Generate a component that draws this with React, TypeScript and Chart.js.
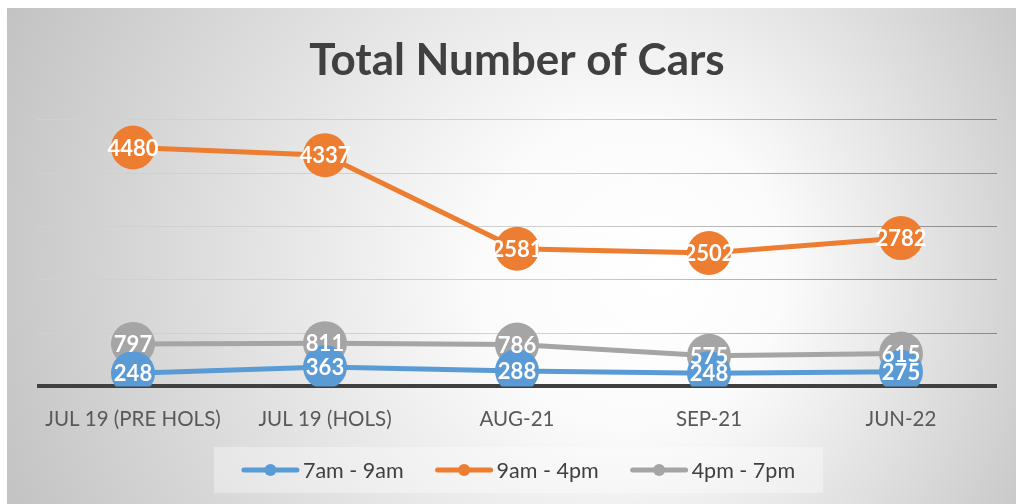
import React, { useEffect, useRef } from "react";
import { Chart, registerables } from "chart.js";

Chart.register(...registerables);

const categories = ["JUL 19 (PRE HOLS)", "JUL 19 (HOLS)", "AUG-21", "SEP-21", "JUN-22"];
const seriesNames = ["7am - 9am", "9am - 4pm", "4pm - 7pm"];
const morning = [248, 363, 288, 248, 275];
const midday = [4480, 4337, 2581, 2502, 2782];
const evening = [797, 811, 786, 575, 615];
const seriesColors = ["#5b9bd5", "#ed7d31", "#a5a5a5"];
const titleText = "Total Number of Cars";

const W = 1009;
const H = 496;

const bgPlugin = {
  id: "bg",
  beforeDraw(chart: any) {
    const ctx = chart.ctx;
    ctx.save();
    const g = ctx.createRadialGradient(660, 270, 0, 520, 250, 610);
    g.addColorStop(0, "#ffffff");
    g.addColorStop(0.25, "#fbfbfb");
    g.addColorStop(1, "#bfbfbf");
    ctx.fillStyle = g;
    ctx.fillRect(0, 0, chart.width, chart.height);
    ctx.restore();
  },
};

const labelPlugin = {
  id: "pointLabels",
  afterDatasetsDraw(chart: any) {
    const ctx = chart.ctx;
    ctx.save();
    ctx.font = "bold 22px Lato";
    ctx.fillStyle = "#ffffff";
    ctx.textAlign = "center";
    ctx.textBaseline = "middle";
    for (let d = chart.data.datasets.length - 1; d >= 0; d--) {
      const meta = chart.getDatasetMeta(d);
      const ds = chart.data.datasets[d];
      meta.data.forEach((pt: any, i: number) => {
        ctx.fillText(String(ds.data[i]), pt.x, pt.y + 1);
      });
    }
    ctx.restore();
  },
};

const legendPlugin = {
  id: "customLegend",
  afterDraw(chart: any) {
    const ctx = chart.ctx;
    ctx.save();
    const boxX = 207, boxY = 439, boxW = 609, boxH = 46;
    ctx.fillStyle = "rgba(255,255,255,0.35)";
    ctx.fillRect(boxX, boxY, boxW, boxH);
    ctx.font = "21.5px Lato";
    const lineLen = 57;
    const gapText = 4;
    const gapItems = 32;
    const items = chart.data.datasets.map((ds: any) => ({
      label: ds.label,
      color: ds.borderColor,
      tw: ctx.measureText(ds.label).width,
    }));
    const total = items.reduce((s: number, it: any) => s + lineLen + gapText + it.tw, 0) + gapItems * (items.length - 1);
    let x = boxX + boxW / 2 - total / 2;
    const cy = boxY + boxH / 2;
    items.forEach((it: any) => {
      ctx.strokeStyle = it.color;
      ctx.lineWidth = 5;
      ctx.lineCap = "round";
      ctx.beginPath();
      ctx.moveTo(x + 2, cy);
      ctx.lineTo(x + lineLen - 2, cy);
      ctx.stroke();
      ctx.fillStyle = it.color;
      ctx.beginPath();
      ctx.arc(x + lineLen / 2, cy, 6, 0, Math.PI * 2);
      ctx.fill();
      ctx.fillStyle = "#404040";
      ctx.textAlign = "left";
      ctx.textBaseline = "middle";
      ctx.fillText(it.label, x + lineLen + gapText, cy + 1);
      x += lineLen + gapText + it.tw + gapItems;
    });
    ctx.restore();
  },
};

export default function App() {
  const ref = useRef<HTMLCanvasElement | null>(null);
  useEffect(() => {
    if (!ref.current) return;
    const seriesData = [morning, midday, evening];
    const chart = new Chart(ref.current, {
      type: "line",
      data: {
        labels: categories,
        datasets: seriesNames.map((name, i) => ({
          label: name,
          data: seriesData[i],
          borderColor: seriesColors[i],
          backgroundColor: seriesColors[i],
          pointBackgroundColor: seriesColors[i],
          pointBorderWidth: 0,
          pointRadius: 22,
          pointHoverRadius: 22,
          borderWidth: 5,
          tension: 0,
          fill: false,
        })),
      },
      options: {
        responsive: false,
        animation: false,
        events: [],
        layout: { autoPadding: false, padding: { left: 30, right: 19, top: 0, bottom: 51 } },
        plugins: {
          legend: { display: false },
          tooltip: { enabled: false },
          title: {
            display: true,
            text: titleText,
            color: "#404040",
            font: { family: "Lato", size: 44, weight: "bold" },
            padding: { top: 26, bottom: 33 },
          },
        },
        scales: {
          x: {
            offset: true,
            grid: { display: false, drawTicks: false },
            border: { display: false },
            ticks: {
              color: "#595959",
              font: { family: "Lato", size: 20.5 },
              padding: 21,
              maxRotation: 0,
              autoSkip: false,
            },
          },
          y: {
            min: 0,
            max: 5000,
            ticks: { display: false, stepSize: 1000 },
            border: { display: false },
            grid: {
              drawTicks: false,
              color: (c: any) => {
                if (c.tick && c.tick.value === 0) return "#404040";
                const ch = c.chart;
                const area = ch.chartArea;
                if (!area) return "#c8c8c8";
                const g = ch.ctx.createLinearGradient(area.left, 0, area.right, 0);
                g.addColorStop(0, "#d0d0d0");
                g.addColorStop(0.55, "#d0d0d0");
                g.addColorStop(1, "#888888");
                return g;
              },
              lineWidth: (c: any) => (c.tick && c.tick.value === 0 ? 4 : 1),
            },
          },
        },
      },
      plugins: [bgPlugin, labelPlugin, legendPlugin],
    } as any);
    return () => chart.destroy();
  }, []);
  return (
    <div style={{ position: "fixed", left: 7, top: 8, width: W, height: H }}>
      <canvas ref={ref} width={W} height={H} style={{ width: W, height: H, display: "block" }} />
    </div>
  );
}
